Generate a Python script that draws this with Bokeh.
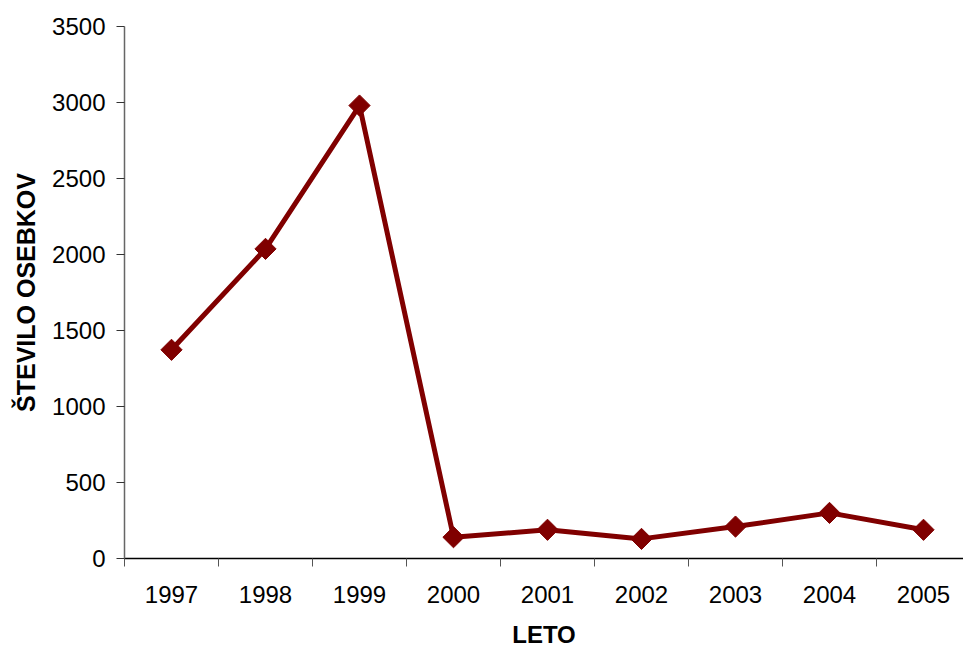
import numpy as np
from bokeh.plotting import figure
from bokeh.models import Range1d, FixedTicker, ColumnDataSource
from bokeh.embed import file_html
from bokeh.resources import INLINE

# Number of individuals counted per year
years = [1997, 1998, 1999, 2000, 2001, 2002, 2003, 2004, 2005]
counts = [1373, 2037, 2980, 140, 189, 129, 210, 300, 189]
y_ticks = [0, 500, 1000, 1500, 2000, 2500, 3000, 3500]

x_title = "LETO"
y_title = "ŠTEVILO OSEBKOV"

line_color = "#800000"
font = "Liberation Sans"

W, H = 963, 652
left, top, bottom = 124, 26, 94
slot = 94.0  # pixel width of one year slot

x_start = years[0] - 0.5
x_end = x_start + (W - left) / slot

p = figure(
    width=W, height=H,
    output_backend="svg", toolbar_location=None,
    x_range=Range1d(x_start, x_end), y_range=Range1d(0, 3500),
    min_border_left=left, min_border_right=0,
    min_border_top=top, min_border_bottom=bottom,
)
p.outline_line_color = None
p.xgrid.visible = False
p.ygrid.visible = False
p.background_fill_color = "white"
p.border_fill_color = "white"

src = ColumnDataSource(dict(x=years, y=counts))
p.line("x", "y", source=src, line_color=line_color, line_width=5, line_join="round")
p.scatter("x", "y", source=src, marker="square", angle=np.pi / 4, size=15,
          fill_color=line_color, line_color=line_color)

# x axis: labels centred in each slot, ticks on slot boundaries
xa = p.xaxis[0]
xa.ticker = FixedTicker(ticks=years, minor_ticks=[y - 0.5 for y in years] + [years[-1] + 0.5])
xa.major_tick_line_color = None
xa.minor_tick_line_color = "#555555"
xa.minor_tick_in = 0
xa.minor_tick_out = 8
xa.axis_line_color = "black"
xa.axis_line_width = 1.5
xa.major_label_text_font = font
xa.major_label_text_font_size = "24px"
xa.major_label_text_color = "black"
xa.major_label_standoff = 19
xa.axis_label = x_title
xa.axis_label_text_font = font
xa.axis_label_text_font_style = "bold"
xa.axis_label_text_font_size = "24px"
xa.axis_label_text_color = "black"
xa.axis_label_standoff = 15

ya = p.yaxis[0]
ya.ticker = FixedTicker(ticks=y_ticks, minor_ticks=[])
ya.axis_line_color = "#666666"
ya.axis_line_width = 1.5
ya.major_tick_line_color = "#333333"
ya.major_tick_in = 0
ya.major_tick_out = 8
ya.minor_tick_line_color = None
ya.major_label_text_font = font
ya.major_label_text_font_size = "24px"
ya.major_label_text_color = "black"
ya.major_label_standoff = 11
ya.axis_label = y_title
ya.axis_label_text_font = font
ya.axis_label_text_font_style = "bold"
ya.axis_label_text_font_size = "25px"
ya.axis_label_text_color = "black"
ya.axis_label_standoff = 9

open("out.html", "w").write(file_html(p, INLINE))
